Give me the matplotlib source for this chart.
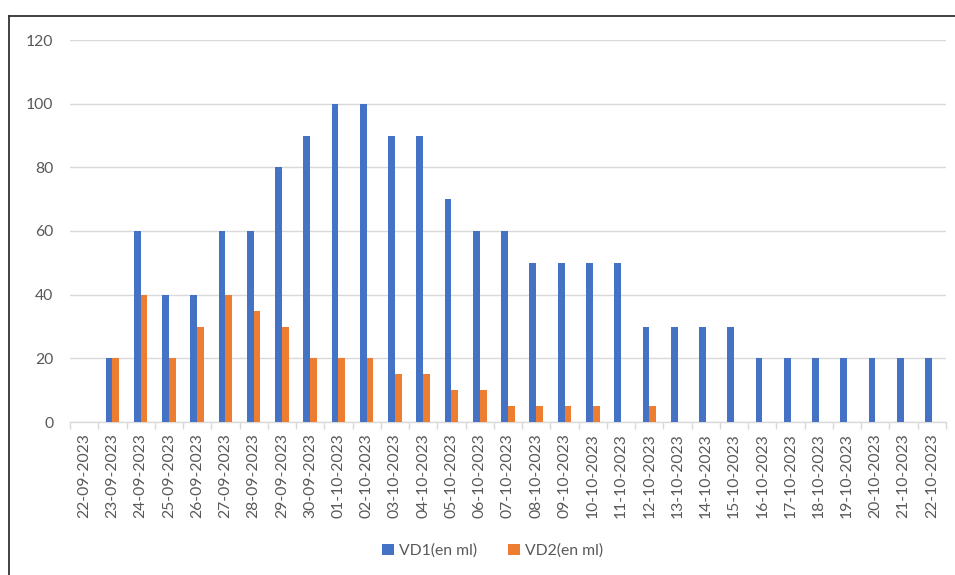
import matplotlib
matplotlib.use("Agg")
import matplotlib.pyplot as plt
from matplotlib.lines import Line2D
import numpy as np

dates = ["22-09-2023", "23-09-2023", "24-09-2023", "25-09-2023", "26-09-2023",
         "27-09-2023", "28-09-2023", "29-09-2023", "30-09-2023", "01-10-2023",
         "02-10-2023", "03-10-2023", "04-10-2023", "05-10-2023", "06-10-2023",
         "07-10-2023", "08-10-2023", "09-10-2023", "10-10-2023", "11-10-2023",
         "12-10-2023", "13-10-2023", "14-10-2023", "15-10-2023", "16-10-2023",
         "17-10-2023", "18-10-2023", "19-10-2023", "20-10-2023", "21-10-2023",
         "22-10-2023"]
vd1 = [0, 20, 60, 40, 40, 60, 60, 80, 90, 100, 100, 90, 90, 70, 60, 60,
       50, 50, 50, 50, 30, 30, 30, 30, 20, 20, 20, 20, 20, 20, 20]
vd2 = [0, 20, 40, 20, 30, 40, 35, 30, 20, 20, 20, 15, 15, 10, 10, 5,
       5, 5, 5, 0, 5, 0, 0, 0, 0, 0, 0, 0, 0, 0, 0]
series_names = ["VD1(en ml)", "VD2(en ml)"]
colors = ["#4472C4", "#ED7D31"]

plt.rcParams["font.family"] = ["Lato", "DejaVu Sans"]
text_color = "#595959"
grid_color = "#D9D9D9"
fs = 11.3

W, H = 955, 575
fig = plt.figure(figsize=(W / 100, H / 100), dpi=100)
ax = fig.add_axes([70 / W, 1 - 422 / H, (946 - 70) / W, (422 - 40) / H])

x = np.arange(len(dates))
bw = 0.24
ax.bar(x - bw / 2, vd1, width=bw, color=colors[0], label=series_names[0], zorder=3)
ax.bar(x + bw / 2, vd2, width=bw, color=colors[1], label=series_names[1], zorder=3)

ax.set_xlim(-0.5, len(dates) - 0.5)
ax.set_ylim(0, 120)
ax.set_yticks(np.arange(0, 121, 20))
ax.yaxis.grid(True, color=grid_color, linewidth=1.0, zorder=0)
ax.set_axisbelow(True)

for s in ["top", "right", "left"]:
    ax.spines[s].set_visible(False)
ax.spines["bottom"].set_color(grid_color)
ax.spines["bottom"].set_linewidth(1.0)

ax.set_xticks(x)
ax.set_xticklabels(dates, rotation=90, fontsize=fs, color=text_color)
ax.set_xticks(np.arange(-0.5, len(dates), 1.0), minor=True)
ax.tick_params(axis="x", which="major", length=0, pad=8)
ax.tick_params(axis="x", which="minor", length=5, color=grid_color, width=1.0)
ax.tick_params(axis="y", length=0, labelsize=fs, labelcolor=text_color, pad=12)

handles, labels = ax.get_legend_handles_labels()
leg = fig.legend(handles, labels, loc="center", bbox_to_anchor=(0.5157, 1 - 551 / H),
                 ncol=2, frameon=False, fontsize=fs, handlelength=0.75,
                 handleheight=0.75, columnspacing=2.0, handletextpad=0.3)
for t in leg.get_texts():
    t.set_color(text_color)

# outer frame (top and left edges)
fig.add_artist(Line2D([9 / W, 1.0], [1 - 16 / H, 1 - 16 / H], transform=fig.transFigure,
                      color="#333333", linewidth=1.3))
fig.add_artist(Line2D([9 / W, 9 / W], [0.0, 1 - 16 / H], transform=fig.transFigure,
                      color="#333333", linewidth=1.3))

fig.savefig("out.png", dpi=100)
